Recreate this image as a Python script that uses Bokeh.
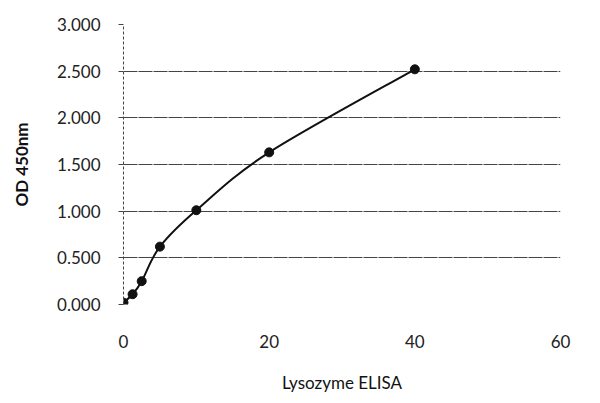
import numpy as np
from bokeh.plotting import figure
from bokeh.models import Range1d, FixedTicker, CustomJSTickFormatter
from bokeh.embed import file_html
from bokeh.resources import INLINE

conc = [0, 1.25, 2.5, 5, 10, 20, 40]
od = [0.02, 0.11, 0.25, 0.62, 1.01, 1.63, 2.52]
x_ticks = [0, 20, 40, 60]
y_ticks = [0, 0.5, 1.0, 1.5, 2.0, 2.5, 3.0]

p = figure(width=584, height=399, output_backend="svg", toolbar_location=None,
           x_range=Range1d(0, 60), y_range=Range1d(0, 3.0),
           min_border_left=123, min_border_right=24, min_border_top=24, min_border_bottom=95)
p.outline_line_color = None
p.background_fill_color = "white"
p.xgrid.grid_line_color = None
p.ygrid.grid_line_color = "#444444"
p.ygrid.grid_line_width = 1
p.ygrid.grid_line_dash = "14 1"

p.xaxis.ticker = FixedTicker(ticks=x_ticks)
p.yaxis.ticker = FixedTicker(ticks=y_ticks)
p.yaxis.formatter = CustomJSTickFormatter(code="return tick.toFixed(3);")

for ax in (p.xaxis, p.yaxis):
    ax.major_label_text_font = "Lato"
    ax.major_label_text_font_size = "17px"
    ax.major_label_text_color = "#222222"
    ax.axis_label_text_font = "Lato"
    ax.axis_label_text_font_style = "bold"
    ax.axis_label_text_font_size = "17px"
    ax.axis_label_text_color = "#111111"
    ax.minor_tick_line_color = None

p.xaxis.axis_line_color = None
p.xaxis.major_tick_line_color = None
p.xaxis.major_label_standoff = 24
p.xaxis.axis_label = "Lysozyme ELISA"
p.xaxis.axis_label_standoff = 21
p.xaxis.axis_label_text_font_style = "normal"
p.xaxis.axis_label_text_font_size = "17px"

p.yaxis.axis_line_color = "#444444"
p.yaxis.axis_line_dash = "3 2"
p.yaxis.major_tick_line_color = "#444444"
p.yaxis.major_tick_in = 0
p.yaxis.major_tick_out = 5
p.yaxis.major_label_standoff = 18
p.yaxis.axis_label = "OD 450nm"
p.yaxis.axis_label_standoff = 22

# smooth curve through points (Catmull-Rom as cubic Bezier segments)
xs = np.array(conc, dtype=float)
ys = np.array(od, dtype=float)
n = len(xs)
x0, y0, x1, y1, cx0, cy0, cx1, cy1 = [], [], [], [], [], [], [], []
t = 1.0 / 6.0
for i in range(n - 1):
    pm = i - 1 if i > 0 else i
    pn = i + 2 if i + 2 < n else i + 1
    x0.append(xs[i]); y0.append(ys[i]); x1.append(xs[i + 1]); y1.append(ys[i + 1])
    cx0.append(xs[i] + (xs[i + 1] - xs[pm]) * t)
    cy0.append(ys[i] + (ys[i + 1] - ys[pm]) * t)
    cx1.append(xs[i + 1] - (xs[pn] - xs[i]) * t)
    cy1.append(ys[i + 1] - (ys[pn] - ys[i]) * t)
p.bezier(x0=x0, y0=y0, x1=x1, y1=y1, cx0=cx0, cy0=cy0, cx1=cx1, cy1=cy1,
         line_color="#111111", line_width=2)

p.scatter(conc, od, size=9, fill_color="#111111", line_color="#111111")

open("out.html", "w").write(file_html(p, INLINE))
